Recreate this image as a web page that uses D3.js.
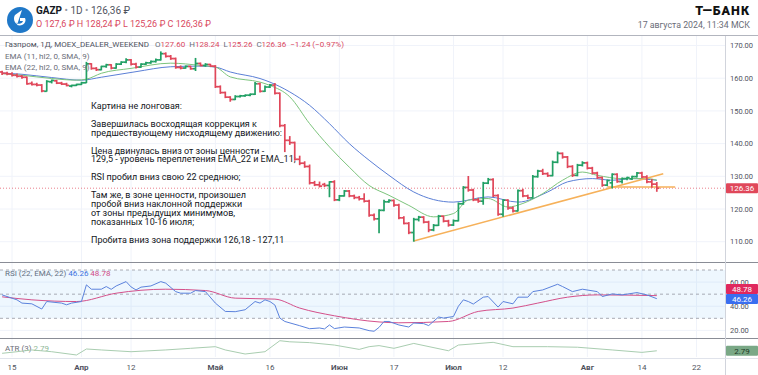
<!DOCTYPE html>
<html lang="ru">
<head>
<meta charset="utf-8">
<title>GAZP 1D</title>
<script src="https://d3js.org/d3.v7.min.js"></script>
<style>
    body { margin: 0; background: #fff; }
    svg { display: block; font-family: Roboto, "Noto Sans", sans-serif; }
    .grid line { stroke: #f0f3fa; stroke-width: 1; }
    .axis-label { font-size: 7.5px; fill: #50535e; }
    .time-label { font-size: 8px; fill: #50535e; text-anchor: middle; }
    .legend { font-size: 8px; fill: #6a6d78; }
    .note { font-size: 9px; fill: #131722; }
</style>
</head>
<body>
<div id="chart"></div>
<script>
// ---------- data ----------
var holidays = ["2024-05-09", "2024-06-01", "2024-06-12"];

var opens = [161.9,161.5,161.3,160.9,160.6,160.3,158.4,158.1,157.9,156.0,
    158.9,159.2,158.5,158.2,157.6,157.8,158.1,158.6,164.4,163.0,
    162.6,163.6,164.1,163.1,164.3,164.9,165.6,164.3,163.4,164.3,
    164.7,165.1,165.6,167.5,166.7,166.0,163.3,163.1,163.6,162.9,
    164.5,163.9,164.2,163.7,157.4,155.6,154.2,153.5,154.4,154.6,
    154.8,155.1,158.3,156.0,157.3,157.9,155.4,145.5,141.0,140.3,
    135.2,134.0,133.0,128.0,127.4,127.5,127.2,128.3,122.8,124.0,
    125.5,124.0,123.5,123.1,122.4,118.1,117.0,119.6,122.2,122.6,
    121.2,117.3,115.6,112.8,116.8,117.5,116.0,113.6,115.0,117.8,
    116.3,115.1,116.4,121.6,126.6,125.8,122.8,122.4,127.9,129.0,
    124.1,118.4,122.7,120.3,119.4,125.6,124.0,123.4,129.9,131.6,
    130.8,130.2,134.3,137.0,135.9,133.0,130.3,133.4,134.1,132.5,
    131.0,129.6,127.3,128.0,130.6,128.4,129.3,129.2,129.9,131.0,
    129.8,128.3,127.6];
var highs = [162.3,162.0,161.8,161.4,161.0,160.5,159.0,158.6,158.2,159.4,
    159.6,159.5,158.9,158.6,158.0,158.3,158.9,165.0,164.6,163.4,
    163.8,164.4,164.3,164.6,165.2,166.1,165.9,164.7,164.6,165.0,
    165.4,166.0,168.2,167.9,167.1,166.3,163.9,163.9,163.8,166.2,
    164.8,164.6,164.4,164.0,157.8,155.9,154.5,154.8,154.9,155.0,
    155.3,158.8,158.6,157.8,158.2,158.5,155.6,146.0,142.3,140.6,
    136.3,134.6,133.6,128.6,128.4,128.0,128.5,128.8,124.3,125.8,
    125.8,124.4,124.0,124.8,122.8,118.6,119.9,122.8,123.0,122.9,
    121.6,117.8,116.0,117.3,117.9,117.8,116.4,115.4,118.2,118.0,
    116.7,116.8,122.0,127.0,130.1,126.2,123.4,128.3,129.5,129.4,
    124.5,123.0,123.0,120.8,126.0,126.2,124.4,130.4,132.0,132.3,
    131.2,134.8,137.6,137.3,136.2,133.4,133.8,134.6,134.5,132.9,
    131.4,129.9,129.0,130.9,130.9,129.6,129.9,130.2,131.3,131.4,
    130.3,129.2,128.24];
var lows = [161.0,160.9,160.5,160.2,159.8,158.0,157.8,157.5,155.7,155.9,
    158.4,158.2,157.9,157.5,157.2,157.6,157.9,158.5,162.6,162.2,
    162.4,163.2,162.7,162.9,164.0,164.6,163.9,163.0,163.2,164.0,
    164.4,164.8,165.4,166.3,165.6,162.9,162.7,162.9,162.6,162.2,
    163.6,163.5,163.4,157.0,155.2,153.9,152.8,153.3,154.1,154.3,
    154.5,154.9,155.6,155.8,157.0,155.0,145.0,137.4,139.6,134.8,
    133.4,132.6,127.5,127.0,126.6,126.7,123.6,122.4,122.4,123.8,
    123.6,123.0,122.6,122.0,117.6,116.5,112.6,119.3,121.9,120.7,
    116.9,115.3,112.3,110.0,116.2,115.6,112.9,113.2,114.8,115.9,
    114.6,114.8,116.2,121.3,125.3,122.4,121.9,121.3,127.6,123.7,
    117.9,117.6,119.8,118.9,119.2,123.6,123.0,123.2,129.6,130.4,
    129.8,130.0,134.0,135.4,132.5,129.8,130.0,133.0,132.1,130.6,
    129.2,126.8,127.0,126.3,128.0,127.8,128.8,128.9,129.6,129.4,
    127.9,126.5,125.26];
var closes = [161.5,161.3,160.9,160.6,160.3,158.3,158.1,157.9,156.1,159.0,
    159.3,158.5,158.2,157.8,157.8,158.1,158.6,164.4,163.0,162.6,
    163.6,164.1,163.1,164.3,164.9,165.6,164.3,163.4,164.3,164.7,
    165.1,165.6,167.5,166.7,166.0,163.3,163.1,163.6,162.9,164.5,
    163.9,164.2,163.7,157.4,155.6,154.2,153.5,154.4,154.6,154.8,
    155.1,158.3,156.0,157.3,157.9,155.4,145.5,141.0,140.3,135.2,
    134.0,133.0,128.0,127.4,127.0,127.2,128.3,122.8,124.0,125.5,
    124.0,123.5,123.1,122.4,118.1,117.0,119.6,122.2,122.6,121.2,
    117.3,115.6,112.8,116.8,117.5,116.0,113.6,115.0,117.8,116.3,
    115.1,116.4,121.6,126.6,125.8,122.8,122.4,127.9,129.0,124.1,
    118.4,122.7,120.3,119.4,125.6,124.0,123.4,129.9,131.6,130.8,
    130.2,134.3,137.0,135.9,133.0,130.3,133.4,134.1,132.5,131.0,
    129.6,127.3,128.7,130.6,128.4,129.3,129.6,129.9,131.0,129.8,
    128.3,127.6,126.36];

// EMA lines at bar indices
var ema11Idx = [0,4,10,15,17,20,26,34,40,43,46,52,54,58,62,66,70,74,78,82,87,91,94,98,102,105,109,113,117,120,125,130,132];
var ema11Val = [161.4,160.9,159.9,159.4,159.7,161.5,163.0,164.6,163.9,163.4,160.4,158.8,157.8,154.3,146.1,139.0,132.8,127.2,124.2,121.1,117.6,118.6,122.7,123.2,120.6,121.7,124.7,128.8,131.3,130.3,129.3,129.3,128.8];
var ema22Idx = [0,4,10,16,20,27,34,40,43,46,52,54,58,62,66,70,74,78,83,91,98,104,110,114,119,123,127,132];
var ema22Val = [161.6,161.2,160.2,159.4,160.3,162.0,163.5,163.7,163.4,161.9,159.9,158.8,155.8,151.7,146.1,140.0,134.9,130.3,125.2,122.1,123.7,122.1,125.2,128.3,129.3,128.8,129.3,128.8];

// orange support lines
var trendIdx = [83, 133.3];
var trendVal = [110.2, 130.8];
var supportIdx = [122, 135.7];
var supportVal = [126.7, 126.7];

// RSI (22) and its EMA (22)
var rsiIdx = [0,3,4,6,8,9,12,13,14,16,17,18,20,21,22,23,25,26,27,28,30,32,33,35,36,38,39,41,43,45,47,49,51,52,53,54,55,56,57,60,62,64,65,66,67,69,72,74,75,76,77,78,80,82,83,85,86,88,89,91,92,93,94,95,97,98,100,101,103,104,106,107,109,112,113,115,117,120,121,123,125,128,130,132];
var rsiVal = [49.4,45.3,42.6,42.0,37.7,43.9,42.6,41.2,42.6,43.9,57.7,54.1,54.1,56.3,54.0,56.8,60.4,56.0,53.5,55.8,56.8,60.4,59.1,52.1,50.8,50.8,53.0,52.1,42.6,35.7,35.5,37.1,43.9,42.6,45.3,43.9,41.0,30.2,27.4,23.9,21.4,22.0,21.2,24.5,21.5,22.8,22.0,19.8,19.3,22.5,27.4,27.4,24.5,22.8,26.1,25.6,24.0,31.1,30.2,31.5,40.0,45.3,43.9,41.8,47.5,48.0,39.3,43.9,42.0,47.5,47.5,52.1,53.5,58.2,56.3,52.1,54.1,52.1,48.0,50.2,49.4,51.3,49.4,46.26];
var rsiMaIdx = [0,6,15,23,33,41,47,55,60,67,76,80,90,96,103,108,114,120,132];
var rsiMaVal = [47.8,45.3,43.9,50.8,54.1,53.0,46.7,45.9,38.5,32.1,27.0,26.3,27.4,35.7,38.5,42.6,47.5,49.4,48.78];

// ATR (3)
var atrIdx = [0,3,6,10,15,17,20,26,33,38,43,45,49,53,56,58,62,67,72,74,76,79,83,90,92,99,103,110,116,123,129,132];
var atrVal = [1.86,2.45,3.1,2.45,1.24,3.45,3.1,2.45,3.1,3.7,4.3,3.1,1.6,2.45,6.5,6.1,5.8,4.9,3.3,4.3,4.7,3.7,5.5,2.8,4.9,5.9,4.3,4.3,4.1,3.1,2.2,2.79];

// time axis
var tickDates = ["2024-03-15","2024-04-01","2024-04-12","2024-05-02","2024-05-16","2024-06-03","2024-06-17","2024-07-01","2024-07-12","2024-08-01","2024-08-14"];
var tickLabels = ["15","Апр","12","Май","16","Июн","17","Июл","12","Авг","14"];
var futureTickIdx = [140];
var futureTickLabels = ["22"];
var priceTicks = [110,120,130,140,150,160,170];
var rsiTicks = [20,40,60];

var noteLines = [
    "Картина не лонговая:", "",
    "Завершилась восходящая коррекция к",
    "предшествующему нисходящему движению:", "",
    "Цена двинулась вниз от зоны ценности -",
    "129,5 - уровень переплетения EMA_22 и EMA_11;", "",
    "RSI пробил вниз свою 22 среднюю;", "",
    "Там же, в зоне ценности, произошел",
    "пробой вниз наклонной поддержки",
    "от зоны предыдущих минимумов,",
    "показанных 10-16 июля;", "",
    "Пробита вниз зона поддержки 126,18 - 127,11"
];

// ---------- layout ----------
var w = 758, h = 375;
var plotRight = 725;
var upColor = "#22a065", downColor = "#e0475a";

var fmtDay = d3.timeFormat("%Y-%m-%d");
var days = d3.timeDay.range(new Date(2024, 2, 13), new Date(2024, 7, 18))
    .filter(function(d) { return d.getDay() !== 0 && holidays.indexOf(fmtDay(d)) < 0; });
var dayKeys = days.map(fmtDay);

var bars = opens.map(function(o, i) {
    return { i: i, o: o, h: highs[i], l: lows[i], c: closes[i] };
});

var x = d3.scaleLinear().domain([0, bars.length - 1]).range([2.1, 656.8]);
var y = d3.scaleLinear().domain([110, 170]).range([241.7, 45.5]);
var yRsi = d3.scaleLinear().domain([20, 70]).range([330.4, 270]);
var yAtr = d3.scaleLinear().domain([0.5, 7.5]).range([357, 338]);

var svg = d3.select("#chart").append("svg").attr("width", w).attr("height", h);

var defs = svg.append("defs");
defs.append("clipPath").attr("id", "clipMain").append("rect").attr("x", 0).attr("y", 36).attr("width", plotRight).attr("height", 226);
defs.append("clipPath").attr("id", "clipRsi").append("rect").attr("x", 0).attr("y", 263).attr("width", plotRight).attr("height", 75);
defs.append("clipPath").attr("id", "clipAtr").append("rect").attr("x", 0).attr("y", 339).attr("width", plotRight).attr("height", 19);

var tickIdx = tickDates.map(function(d) { return dayKeys.indexOf(d); }).concat(futureTickIdx);
var allTickLabels = tickLabels.concat(futureTickLabels);

// ---------- header ----------
var head = svg.append("g");
head.append("circle").attr("cx", 20).attr("cy", 20).attr("r", 13).attr("fill", "#1f78c8");
head.append("path")
    .attr("d", "M22 10 C15 14 14 21 18 25 C14 23 13 18 15 15 M17 25 C23 27 27 22 25 18 L20 18 L20 21 L23 21 C22 24 18 25 16 22 C13 18 17 13 22 10 Z")
    .attr("fill", "#fff");
head.append("text").attr("x", 36).attr("y", 14).attr("font-size", "10px").attr("fill", "#131722")
    .html('<tspan font-weight="bold">GAZP</tspan><tspan fill="#9598a1"> • </tspan><tspan fill="#50535e">1D</tspan><tspan fill="#9598a1"> • </tspan><tspan fill="#50535e">126,36 ₽</tspan>');
head.append("text").attr("x", 36).attr("y", 26.5).attr("font-size", "9px").attr("fill", "#d9485e")
    .text("O 127,6 ₽  H 128,24 ₽  L 125,26 ₽  C 126,36 ₽");
head.append("text").attr("x", 750).attr("y", 14.5).attr("text-anchor", "end").attr("font-size", "12.5px")
    .attr("font-weight", "900").attr("fill", "#111").attr("letter-spacing", "1px").text("Т—БАНК");
head.append("text").attr("x", 750).attr("y", 27.5).attr("text-anchor", "end").attr("font-size", "8.8px")
    .attr("fill", "#6a6d78").text("17 августа 2024, 11:34 МСК");
svg.append("line").attr("x1", 0).attr("x2", w).attr("y1", 35.5).attr("y2", 35.5).attr("stroke", "#b2b5be");

// ---------- grid ----------
var grid = svg.append("g").attr("class", "grid");
grid.selectAll("line.v").data(tickIdx).enter().append("line").attr("class", "v")
    .attr("x1", function(d) { return x(d); }).attr("x2", function(d) { return x(d); })
    .attr("y1", 36).attr("y2", 357);
grid.selectAll("line.hp").data(priceTicks).enter().append("line").attr("class", "hp")
    .attr("x1", 0).attr("x2", plotRight).attr("y1", function(d) { return y(d); }).attr("y2", function(d) { return y(d); });
grid.selectAll("line.hr").data(rsiTicks).enter().append("line").attr("class", "hr")
    .attr("x1", 0).attr("x2", plotRight).attr("y1", function(d) { return yRsi(d); }).attr("y2", function(d) { return yRsi(d); });

// ---------- note ----------
svg.append("g").selectAll("text").data(noteLines).enter().append("text").attr("class", "note")
    .attr("x", 91).attr("y", function(d, i) { return 109 + i * 8.9; })
    .text(function(d) { return d; });

// ---------- main pane ----------
var main = svg.append("g").attr("clip-path", "url(#clipMain)");

// last price dotted line
main.append("line").attr("x1", 0).attr("x2", plotRight)
    .attr("y1", y(closes[closes.length - 1])).attr("y2", y(closes[closes.length - 1]))
    .attr("stroke", "#e0475a").attr("stroke-dasharray", "1,2").attr("stroke-opacity", 0.7);

var lineFn = function(xs, ys, sy) {
    return d3.line().x(function(d, i) { return x(xs[i]); }).y(function(d) { return sy(d); })
        .curve(d3.curveMonotoneX)(ys);
};
main.append("path").attr("d", lineFn(ema22Idx, ema22Val, y)).attr("fill", "none").attr("stroke", "#5b7fd6").attr("stroke-width", 1);
main.append("path").attr("d", lineFn(ema11Idx, ema11Val, y)).attr("fill", "none").attr("stroke", "#7cc47c").attr("stroke-width", 1);

main.append("line").attr("x1", x(trendIdx[0])).attr("x2", x(trendIdx[1]))
    .attr("y1", y(trendVal[0])).attr("y2", y(trendVal[1])).attr("stroke", "#f6b15a").attr("stroke-width", 1.5);
main.append("line").attr("x1", x(supportIdx[0])).attr("x2", x(supportIdx[1]))
    .attr("y1", y(supportVal[0])).attr("y2", y(supportVal[1])).attr("stroke", "#f6b15a").attr("stroke-width", 1.5);

var barG = main.selectAll("g.bar").data(bars).enter().append("g").attr("class", "bar")
    .attr("stroke", function(d) { return d.c >= d.o ? upColor : downColor; })
    .attr("stroke-width", 1.7);
barG.append("line").attr("x1", function(d) { return x(d.i); }).attr("x2", function(d) { return x(d.i); })
    .attr("y1", function(d) { return y(d.h); }).attr("y2", function(d) { return y(d.l); });
barG.append("line").attr("x1", function(d) { return x(d.i) - 2.6; }).attr("x2", function(d) { return x(d.i); })
    .attr("y1", function(d) { return y(d.o); }).attr("y2", function(d) { return y(d.o); });
barG.append("line").attr("x1", function(d) { return x(d.i); }).attr("x2", function(d) { return x(d.i) + 2.6; })
    .attr("y1", function(d) { return y(d.c); }).attr("y2", function(d) { return y(d.c); });

// legends
var lg = svg.append("g").attr("class", "legend");
lg.append("text").attr("x", 5).attr("y", 47)
    .html('<tspan fill="#50535e">Газпром, 1Д, MOEX_DEALER_WEEKEND</tspan>' +
        '<tspan dx="6">O</tspan><tspan fill="#d9485e">127.60</tspan>' +
        '<tspan dx="4">H</tspan><tspan fill="#d9485e">128.24</tspan>' +
        '<tspan dx="4">L</tspan><tspan fill="#d9485e">125.26</tspan>' +
        '<tspan dx="4">C</tspan><tspan fill="#d9485e">126.36</tspan>' +
        '<tspan dx="4" fill="#d9485e">−1.24 (−0.97%)</tspan>');
lg.append("text").attr("x", 5).attr("y", 59).text("EMA (11, hl2, 0, SMA, 9)");
lg.append("text").attr("x", 5).attr("y", 69.5).text("EMA (22, hl2, 0, SMA, 9)");

// ---------- RSI pane ----------
var rsiG = svg.append("g").attr("clip-path", "url(#clipRsi)");
rsiG.append("rect").attr("x", 0).attr("width", plotRight).attr("y", yRsi(70)).attr("height", yRsi(30) - yRsi(70))
    .attr("fill", "#2196f3").attr("fill-opacity", 0.08);
rsiG.selectAll("line.lvl").data([70, 50, 30]).enter().append("line").attr("class", "lvl")
    .attr("x1", 0).attr("x2", plotRight).attr("y1", function(d) { return yRsi(d); }).attr("y2", function(d) { return yRsi(d); })
    .attr("stroke", "#9598a1").attr("stroke-dasharray", "3,3").attr("stroke-width", 0.8);
rsiG.append("path").attr("d", lineFn(rsiMaIdx, rsiMaVal, yRsi)).attr("fill", "none").attr("stroke", "#d4508a").attr("stroke-width", 1);
rsiG.append("path").attr("d", d3.line().x(function(d, i) { return x(rsiIdx[i]); }).y(function(d) { return yRsi(d); })(rsiVal))
    .attr("fill", "none").attr("stroke", "#5b82dc").attr("stroke-width", 1);
lg.append("text").attr("x", 5).attr("y", 276)
    .html('RSI (22, EMA, 22) <tspan fill="#3d6ee0">46.26</tspan> <tspan fill="#e0457b">48.78</tspan>');

// ---------- ATR pane ----------
var atrG = svg.append("g").attr("clip-path", "url(#clipAtr)");
atrG.append("path").attr("d", d3.line().x(function(d, i) { return x(atrIdx[i]); }).y(function(d) { return yAtr(d); })(atrVal))
    .attr("fill", "none").attr("stroke", "#a9cdb0").attr("stroke-width", 1);
lg.append("text").attr("x", 5).attr("y", 351)
    .html('ATR (3) <tspan fill="#8fb897">2.79</tspan>');

// ---------- separators ----------
svg.append("line").attr("x1", 0).attr("x2", w).attr("y1", 262.5).attr("y2", 262.5).attr("stroke", "#8a8d96").attr("stroke-width", 1);
svg.append("line").attr("x1", 0).attr("x2", w).attr("y1", 338.5).attr("y2", 338.5).attr("stroke", "#8a8d96").attr("stroke-width", 1);
svg.append("line").attr("x1", plotRight + 0.5).attr("x2", plotRight + 0.5).attr("y1", 36).attr("y2", h).attr("stroke", "#d1d4dc");
svg.append("line").attr("x1", 0).attr("x2", w).attr("y1", 358.5).attr("y2", 358.5).attr("stroke", "#e0e3eb");

// ---------- axes ----------
svg.append("g").selectAll("text").data(priceTicks).enter().append("text").attr("class", "axis-label")
    .attr("x", 730).attr("y", function(d) { return y(d) + 2.7; }).text(function(d) { return d3.format(".2f")(d); });
svg.append("g").selectAll("text").data(rsiTicks).enter().append("text").attr("class", "axis-label")
    .attr("x", 730).attr("y", function(d) { return yRsi(d) + 2.7; }).text(function(d) { return d3.format(".2f")(d); });

svg.append("g").selectAll("text").data(tickIdx).enter().append("text").attr("class", "time-label")
    .attr("x", function(d) { return x(d); }).attr("y", 369.5)
    .attr("font-weight", function(d, i) { return /^\d+$/.test(allTickLabels[i]) ? "normal" : "bold"; })
    .text(function(d, i) { return allTickLabels[i]; });

// value tags on the right
function tag(yPos, fill, txtFill, label) {
    var g = svg.append("g");
    g.append("rect").attr("x", 726).attr("y", yPos - 5).attr("width", 32).attr("height", 10).attr("rx", 1).attr("fill", fill);
    g.append("text").attr("x", 742).attr("y", yPos + 2.8).attr("text-anchor", "middle").attr("font-size", "8px")
        .attr("fill", txtFill).text(label);
}
tag(y(closes[closes.length - 1]), "#e0475a", "#fff", "126.36");
tag(289, "#e0285e", "#fff", "48.78");
tag(299, "#3a6ef0", "#fff", "46.26");
tag(yAtr(atrVal[atrVal.length - 1]), "#7aa886", "#1d3a26", "2.79");
</script>
</body>
</html>
